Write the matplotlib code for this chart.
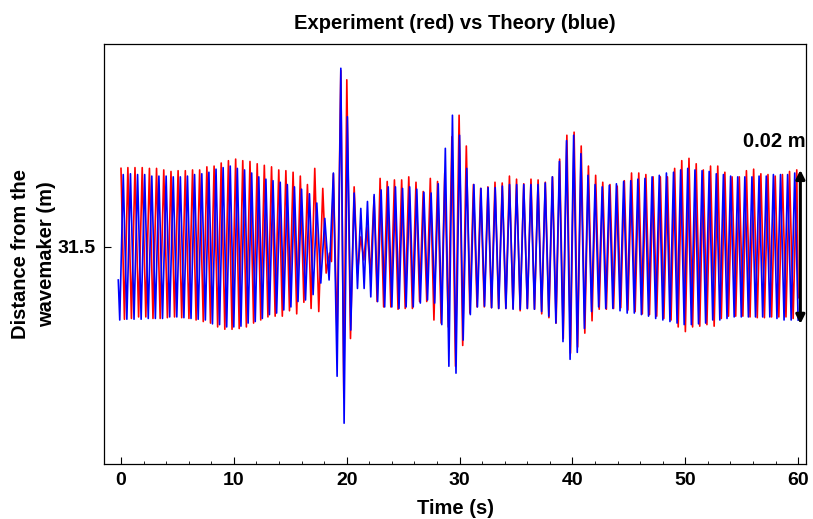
import numpy as np
import matplotlib
matplotlib.use("Agg")
import matplotlib.pyplot as plt

# ---------------- data ----------------
gauge_position = 31.5          # m, distance from the wavemaker
scale_bar = 0.02               # m

# Experiment (red): crest times (s), crest and trough elevations (mm)
red_crest_t = [0.00, 0.61, 1.24, 1.88, 2.52, 3.15, 3.79, 4.43, 5.06, 5.70, 6.34, 6.97, 7.61,
               8.25, 8.88, 9.52, 10.16, 10.79, 11.43, 12.07, 12.70, 13.34, 13.98, 14.61, 15.25,
               15.89, 16.52,
               17.17, 17.88, 18.48, 18.82, 19.48, 20.01, 20.66, 21.25, 21.78, 22.43, 22.96,
               23.59, 24.23, 24.87, 25.50, 26.14, 26.78, 27.41, 28.05, 28.69, 29.32, 29.96,
               30.60, 31.23, 31.87, 32.51, 33.14, 33.78, 34.42, 35.05, 35.69, 36.33, 36.96,
               37.60, 38.24, 38.87, 39.51, 40.15, 40.78, 41.42, 42.06, 42.69, 43.33, 43.97,
               44.60, 45.24, 45.88, 46.51, 47.15, 47.79, 48.42, 49.06, 49.69, 50.33, 50.97,
               51.60, 52.24, 52.88, 53.51, 54.15, 54.79, 55.42, 56.06, 56.70, 57.33, 57.97,
               58.61, 59.24, 59.88]
red_crest = [10.2, 10.3, 10.3, 10.3, 10.2, 10.2, 10.0, 9.8, 9.9, 9.9, 10.0, 10.0, 10.4,
             10.5, 10.9, 11.2, 11.4, 11.2, 11.1, 10.8, 10.6, 10.4, 10.0, 9.9, 9.7, 9.2, 8.1,
             10.2, 7.6, -0.8, 9.5, 22.9, 21.7, 7.8, 1.3, 2.6, 6.5, 8.9,
             8.5, 8.7, 8.7, 9.1,
             8.4, 7.2, 8.9, 8.5, 9.6, 14.3, 17.1, 13.1, 8.1, 7.6, 7.8, 8.4, 8.3, 9.2,
             8.8, 8.2, 8.8, 8.7, 8.4, 9.1, 11.4, 14.5, 14.9, 13.1, 10.5, 9.3, 8.4, 8.1,
             7.9, 8.6, 9.6, 9.6, 9.4, 9.1, 9.1, 9.1, 10.2, 11.2, 11.5, 10.8, 10.0, 10.5,
             10.5, 9.7, 9.1, 9.1, 9.9, 10.1, 9.5, 9.4, 9.2, 9.4, 9.8, 10.0]
red_trough = [-9.4, -9.3, -9.1, -9.1, -9.3, -9.3, -9.2, -9.1, -9.2, -9.3, -9.5, -9.7, -9.9,
              -10.4, -10.7, -10.7, -10.6, -10.4, -9.9, -9.5, -9.1, -9.0, -9.0, -8.3, -8.7, -7.2,
              -8.0, -8.4, -3.4, -1.9, -11.9, -19.6, -11.9, -3.4, -1.7, -3.4, -7.1, -7.8,
              -7.8, -8.1, -8.0,
              -8.0, -7.1, -7.1, -9.5, -9.9, -10.4, -15.5, -12.8, -8.6, -7.8, -7.8, -7.9, -8.0, -8.0,
              -8.0, -8.3, -8.0, -8.1, -8.7, -9.2, -9.9, -11.9, -13.8, -13.0, -11.2, -9.6, -8.1, -8.1,
              -8.0, -7.9, -8.2, -8.4, -8.7, -8.8, -9.0, -9.3, -9.5, -10.4, -11.0, -10.4, -10.3, -10.1,
              -10.3, -9.3, -9.0, -9.0, -9.0, -9.1, -9.2, -9.2, -9.1, -9.1, -9.1, -9.3]
red_tail_t = [60.0]
red_tail = [-6.6]

# Theory (blue)
blue_head_t = [-0.24, -0.11]
blue_head = [-4.3, -9.5]
blue_crest_t = [0.20, 0.84, 1.47, 2.10, 2.73, 3.36, 4.00, 4.63, 5.26, 5.89, 6.52, 7.16, 7.79,
                8.42, 9.05, 9.68, 10.31, 10.95, 11.58, 12.21, 12.84, 13.47, 14.11, 14.74, 15.37,
                16.00,
                16.70, 17.35, 18.06, 18.82, 19.48, 20.06, 20.66, 21.25, 21.84, 22.43, 23.05,
                23.68, 24.32, 24.95, 25.58, 26.21, 26.84, 27.48, 28.11, 28.74, 29.37, 30.00,
                30.64, 31.27, 31.90, 32.53, 33.16, 33.79, 34.43, 35.06, 35.69, 36.32, 36.95,
                37.59, 38.22, 38.85, 39.48, 40.11, 40.75, 41.38, 42.01, 42.64, 43.27, 43.90,
                44.54, 45.17, 45.80, 46.43, 47.06, 47.70, 48.33, 48.96, 49.59, 50.22, 50.86,
                51.49, 52.12, 52.75, 53.38, 54.02, 54.65, 55.28, 55.91, 56.54, 57.18, 57.81,
                58.44, 59.07, 59.70]
blue_crest = [9.4, 9.5, 9.4, 9.4, 9.2, 9.2, 9.2, 9.1, 9.1, 9.2, 9.4, 9.5, 9.7,
              10.1, 10.3, 10.5, 10.2, 10.0, 9.6, 9.1, 8.8, 8.6, 8.4, 8.1, 7.8, 7.5,
              6.9, 5.7, 3.7, 9.6, 23.2, 16.9, 7.0, 5.0, 5.9, 6.8, 7.4,
              7.8, 7.8, 7.6, 7.8,
              7.5, 7.1, 7.0, 8.2, 12.8, 17.1, 14.5, 10.2, 8.1, 7.6, 7.7, 7.7, 7.9, 8.1,
              8.1, 8.1, 8.1, 8.1, 8.3, 9.1, 11.1, 13.8, 14.5, 12.1, 9.3, 8.1, 7.8, 8.0,
              8.2, 8.5, 8.6, 8.8, 8.9, 9.1, 9.3, 9.6, 9.7, 10.0, 10.2, 10.0, 9.9, 9.8,
              9.5, 9.4, 9.2, 9.1, 9.1, 9.1, 9.2, 9.2, 9.4, 9.4, 9.4, 9.6]
blue_trough = [-9.4, -9.4, -9.4, -9.3, -9.3, -9.3, -9.1, -9.1, -9.2, -9.3, -9.4, -9.5,
               -10.0, -10.1, -10.4, -10.4, -10.3, -9.9, -9.7, -9.3, -8.8, -8.6, -8.2, -7.8, -7.1, -6.9,
               -6.2, -4.7, -4.3, -16.8, -22.9, -10.8, -5.4, -5.4, -6.5, -7.1, -7.8,
               -7.8, -8.0, -7.8,
               -7.8, -7.3, -6.9, -7.3, -10.1, -15.5, -16.4, -12.1, -8.8, -7.8, -7.7, -7.9, -8.0, -8.0,
               -8.1, -8.1, -8.0, -8.1, -8.4, -9.0, -9.9, -12.3, -14.6, -13.7, -10.6, -8.4, -7.8, -8.0,
               -8.0, -8.3, -8.6, -8.6, -8.8, -9.0, -9.3, -9.5, -9.7, -9.9, -10.1, -10.1, -10.0, -9.9,
               -9.5, -9.5, -9.3, -9.1, -9.1, -9.1, -9.1, -9.1, -9.1, -9.3, -9.5, -9.5, -9.5]
blue_last_trough_t = 60.0

x_ticks = [0, 10, 20, 30, 40, 50, 60]
y_ticks = [31.5]


def build(crest_t, crest, trough, last_trough_t=None):
    ct = np.asarray(crest_t, float)
    tr_t = (ct[:-1] + ct[1:]) / 2.0
    if last_trough_t is not None:
        tr_t = np.append(tr_t, last_trough_t)
    t, y = [], []
    for i in range(len(ct)):
        t.append(ct[i]); y.append(crest[i])
        if i < len(trough):
            t.append(tr_t[i]); y.append(trough[i])
    return np.array(t), np.array(y)


rt, ry = build(red_crest_t, red_crest, red_trough)
rt = np.concatenate([rt, red_tail_t]); ry = np.concatenate([ry, red_tail])
bt, by = build(blue_crest_t, blue_crest, blue_trough, blue_last_trough_t)
bt = np.concatenate([blue_head_t, bt]); by = np.concatenate([blue_head, by])

plt.rcParams['font.family'] = ['Liberation Sans', 'DejaVu Sans']
plt.rcParams['font.weight'] = 'bold'

fig = plt.figure(figsize=(8.13, 5.19), dpi=100)
ax = fig.add_axes([0.128, 0.106, 0.8634, 0.8084])

ax.plot(rt, gauge_position + ry / 1000.0, color='#ff0000', lw=1.2, solid_joinstyle='round')
ax.plot(bt, gauge_position + by / 1000.0, color='#0000ff', lw=1.2, solid_joinstyle='round')

ax.set_xlim(-1.5, 60.7)
ax.set_ylim(31.4718, 31.5263)
ax.set_xticks(x_ticks)
ax.set_xticks(np.arange(2, 60, 2), minor=True)
ax.set_yticks(y_ticks)
ax.set_yticklabels(['31.5'])
ax.tick_params(axis='both', which='major', direction='in', length=5, width=0.8,
               labelsize=14, pad=6)
ax.tick_params(axis='x', which='minor', direction='in', length=2.5, width=0.6)
for lab in ax.get_xticklabels() + ax.get_yticklabels():
    lab.set_fontweight('bold')
for s in ax.spines.values():
    s.set_linewidth(0.9)

ax.set_xlabel('Time (s)', fontsize=14.5, fontweight='bold', labelpad=7)
ax.set_ylabel('Distance from the\nwavemaker (m)', fontsize=14.5, fontweight='bold',
              labelpad=1, linespacing=1.45)
ax.set_title('Experiment (red) vs Theory (blue)', fontsize=14.5, fontweight='bold', pad=11)

# scale bar
ax.annotate('', xy=(60.2, gauge_position + scale_bar / 2), xytext=(60.2, gauge_position - scale_bar / 2),
            arrowprops=dict(arrowstyle='<|-|>', color='black', lw=2.2, mutation_scale=13,
                            shrinkA=0, shrinkB=0))
ax.text(57.9, gauge_position + 0.0137, '0.02 m', fontsize=14.5, fontweight='bold',
        ha='center', va='center')

fig.savefig('out.png', dpi=100)
